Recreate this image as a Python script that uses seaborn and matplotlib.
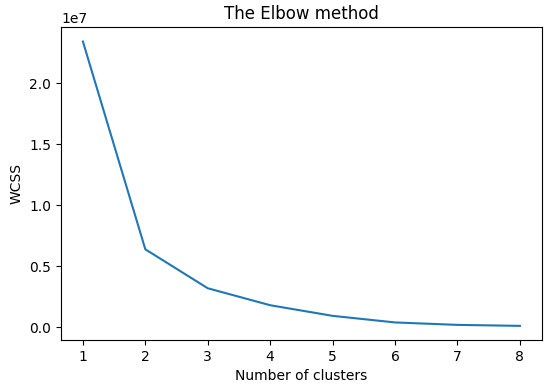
import matplotlib
matplotlib.use("Agg")
import matplotlib.pyplot as plt
import seaborn as sns
import pandas as pd

clusters = [1, 2, 3, 4, 5, 6, 7, 8]
wcss = [2.342e7, 0.640e7, 0.321e7, 0.182e7, 0.095e7, 0.041e7, 0.021e7, 0.013e7]

df = pd.DataFrame({"clusters": clusters, "wcss": wcss})

fig, ax = plt.subplots(figsize=(5.5, 3.9), dpi=100)
sns.lineplot(data=df, x="clusters", y="wcss", ax=ax, color="#1f77b4")
ax.set_title("The Elbow method")
ax.set_xlabel("Number of clusters")
ax.set_ylabel("WCSS")
fig.subplots_adjust(left=0.111, right=0.985, top=0.93, bottom=0.128)
fig.savefig("out.png")
